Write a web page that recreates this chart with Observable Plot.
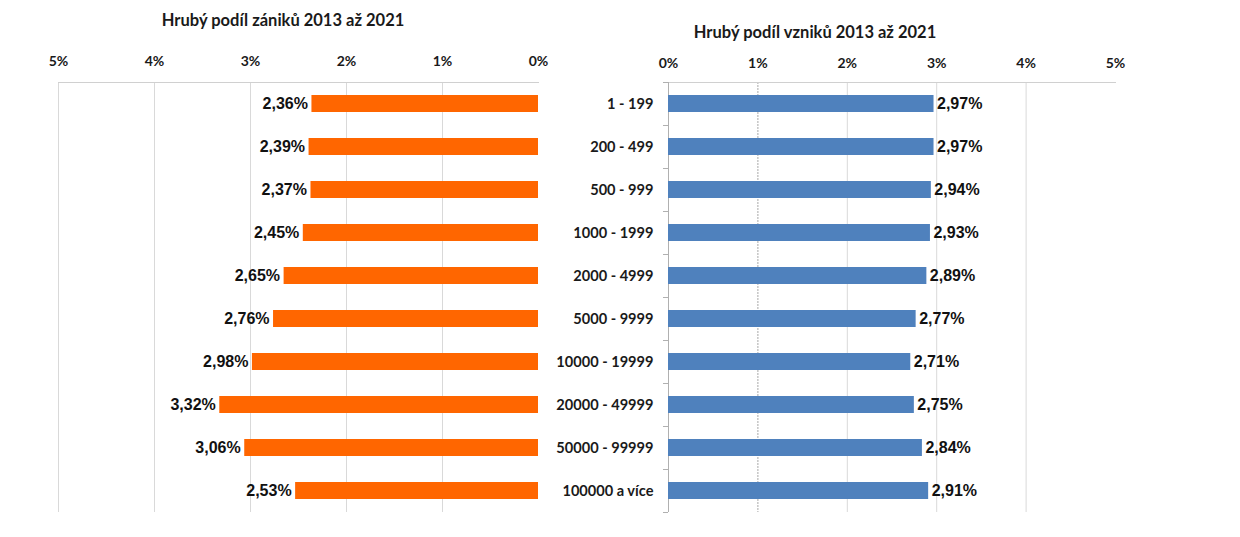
<!DOCTYPE html>
<html>
<head>
<meta charset="utf-8">
<script src="https://cdn.jsdelivr.net/npm/d3@7"></script>
<script src="https://cdn.jsdelivr.net/npm/@observablehq/plot@0.6"></script>
<style>
  html, body { margin: 0; padding: 0; background: #fff; }
  #wrap { position: relative; width: 1240px; height: 537px; overflow: hidden; background: #fff; }
  .title { position: absolute; font-family: Lato, "Open Sans", sans-serif; font-weight: bold; font-size: 16.5px; color: #1a1a1a; white-space: nowrap; transform: translate(-50%, -50%); }
  .chart { position: absolute; top: 40px; }
</style>
</head>
<body>
<div id="wrap">
  <div class="title" style="left:283px; top:20px;">Hrubý podíl zániků 2013 až 2021</div>
  <div class="title" style="left:815px; top:32px;">Hrubý podíl vzniků 2013 až 2021</div>
  <div id="left" class="chart" style="left:0px;"></div>
  <div id="right" class="chart" style="left:540px;"></div>
</div>
<script>
const categories = ["1 - 199", "200 - 499", "500 - 999", "1000 - 1999", "2000 - 4999", "5000 - 9999", "10000 - 19999", "20000 - 49999", "50000 - 99999", "100000 a více"];
const zaniky = [2.36, 2.39, 2.37, 2.45, 2.65, 2.76, 2.98, 3.32, 3.06, 2.53];
const vzniky = [2.97, 2.97, 2.94, 2.93, 2.89, 2.77, 2.71, 2.75, 2.84, 2.91];
const xTicks = [0, 1, 2, 3, 4, 5];

const fmt = v => v.toFixed(2).replace(".", ",") + "%";
const leftData = categories.map((c, i) => ({c, v: zaniky[i]}));
const rightData = categories.map((c, i) => ({c, v: vzniky[i]}));

const axisFont = {fontFamily: "Lato, sans-serif", fontWeight: "bold", fontSize: 14, fill: "#1a1a1a"};

const leftPlot = Plot.plot({
  width: 620, height: 490,
  marginTop: 42, marginBottom: 18, marginLeft: 58, marginRight: 82,
  style: {background: "transparent", overflow: "visible"},
  x: {domain: [0, 5], reverse: true, label: null},
  y: {domain: categories, paddingInner: 0.6, paddingOuter: 0.3, axis: null},
  marks: [
    Plot.ruleX(xTicks.filter(d => d > 0), {stroke: "#d9d9d9", strokeWidth: 1}),
    Plot.frame({anchor: "top", stroke: "#d0d0d0"}),
    Plot.axisX(xTicks, {anchor: "top", tickSize: 0, tickPadding: 17, tickFormat: d => d + "%", ...axisFont, label: null}),
    Plot.barX(leftData, {x: "v", y: "c", fill: "#ff6600"}),
    Plot.text(leftData, {x: "v", y: "c", text: d => fmt(d.v), textAnchor: "end", dx: -4,
      fontFamily: "'Liberation Sans', Arial, sans-serif", fontWeight: "bold", fontSize: 16, fill: "#111"})
  ]
});
document.getElementById("left").appendChild(leftPlot);

const rightPlot = Plot.plot({
  width: 700, height: 490,
  marginTop: 42, marginBottom: 18, marginLeft: 128, marginRight: 125,
  style: {background: "transparent", overflow: "visible"},
  x: {domain: [0, 5], label: null},
  y: {domain: categories, paddingInner: 0.6, paddingOuter: 0.3, axis: null},
  marks: [
    Plot.ruleX(xTicks.filter(d => d > 1 && d < 5), {stroke: "#d9d9d9", strokeWidth: 1}),
    Plot.ruleX([1], {stroke: "#a8a8a8", strokeWidth: 1, strokeDasharray: "2,1"}),
    Plot.frame({anchor: "top", stroke: "#d0d0d0"}),
    Plot.ruleX([0], {stroke: "#b0b0b0", strokeWidth: 1}),
    Plot.ruleY(categories, {y: d => d, x1: -0.056, x2: 0, dy: -21.5, stroke: "#b0b0b0"}),
    Plot.ruleY(categories.slice(-1), {y: d => d, x1: -0.056, x2: 0, dy: 21.5, stroke: "#b0b0b0"}),
    Plot.axisX(xTicks, {anchor: "top", tickSize: 0, tickPadding: 15, tickFormat: d => d + "%", ...axisFont, label: null}),
    Plot.barX(rightData, {x: "v", y: "c", fill: "#4f81bd"}),
    Plot.text(rightData, {x: "v", y: "c", text: d => fmt(d.v), textAnchor: "start", dx: 3,
      fontFamily: "'Liberation Sans', Arial, sans-serif", fontWeight: "bold", fontSize: 16, fill: "#111"}),
    Plot.text(rightData, {x: 0, y: "c", text: "c", textAnchor: "end", dx: -15,
      fontFamily: "Lato, sans-serif", fontWeight: "bold", fontSize: 14.6, fill: "#1a1a1a"})
  ]
});
document.getElementById("right").appendChild(rightPlot);
</script>
</body>
</html>
